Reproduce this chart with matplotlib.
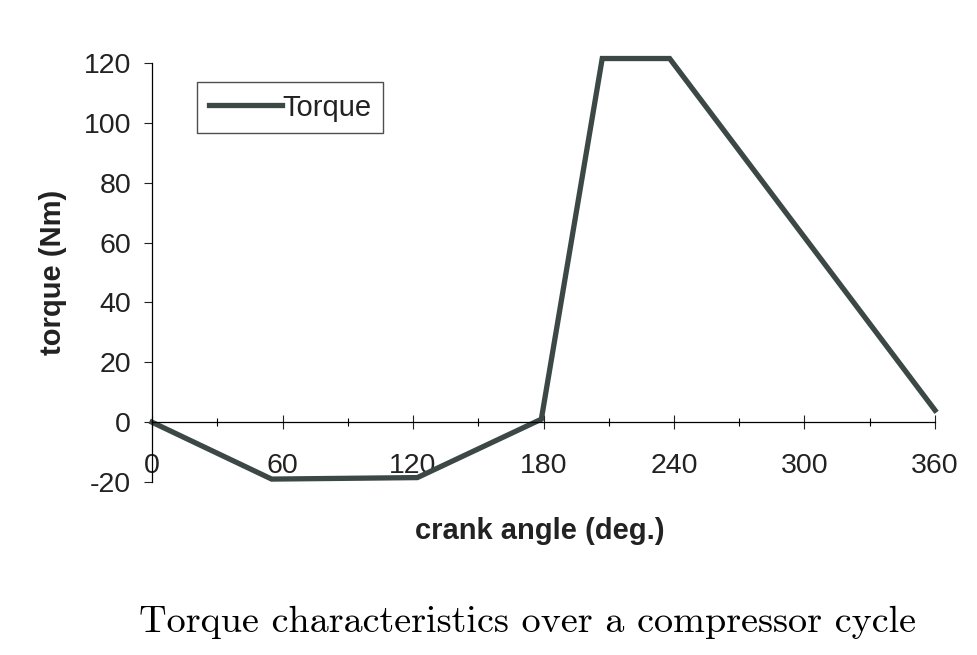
import numpy as np
import matplotlib.pyplot as plt

# crank angle (deg) and torque (Nm)
angle = [0, 55, 122, 179, 207, 238, 360]
torque = [0, -19, -18.5, 1, 121.5, 121.5, 4]

xticks = [0, 60, 120, 180, 240, 300, 360]
yticks = [-20, 0, 20, 40, 60, 80, 100, 120]

plt.rcParams['font.family'] = ['Liberation Sans', 'DejaVu Sans']
plt.rcParams['axes.unicode_minus'] = False

fig = plt.figure(figsize=(9.77, 6.55), dpi=100)
ax = fig.add_axes([0.1556, 0.264, 0.8014, 0.6398])

ax.plot(angle, torque, color='#3b4845', lw=3.8, solid_joinstyle='miter',
        clip_on=False, label='Torque')

ax.set_xlim(0, 360)
ax.set_ylim(-20, 120)
ax.spines['top'].set_visible(False)
ax.spines['right'].set_visible(False)
ax.spines['bottom'].set_position(('data', 0))
ax.spines['left'].set_linewidth(0.9)
ax.spines['bottom'].set_linewidth(0.9)

ax.set_xticks(xticks)
ax.set_xticks(np.arange(30, 360, 60), minor=True)
ax.set_yticks(yticks)
ax.tick_params(axis='x', which='major', direction='inout', length=10, width=0.8,
               pad=17, labelsize=20.5, colors='#222222')
ax.tick_params(axis='x', which='minor', direction='inout', length=6, width=0.8)
ax.tick_params(axis='y', direction='out', length=6, width=0.8, pad=9,
               labelsize=20.5, colors='#222222')

ax.set_ylabel('torque (Nm)', fontsize=21, fontweight='bold', color='#222222', labelpad=12)
fig.text(0.553, 0.19, 'crank angle (deg.)', fontsize=21, fontweight='bold',
         color='#222222', ha='center', va='center')

leg = ax.legend(loc='upper left', bbox_to_anchor=(0.058, 0.955), fontsize=21,
                frameon=True, fancybox=False, edgecolor='#222222',
                handlelength=2.5, handletextpad=0.0, borderpad=0.4,
                borderaxespad=0)
leg.get_frame().set_linewidth(1.0)
for t in leg.get_texts():
    t.set_color('#222222')

fig.text(0.54, 0.05, 'Torque characteristics over a compressor cycle',
         fontfamily='cmr10', fontsize=27.5, ha='center', va='center')

fig.savefig('out.png', dpi=100)
